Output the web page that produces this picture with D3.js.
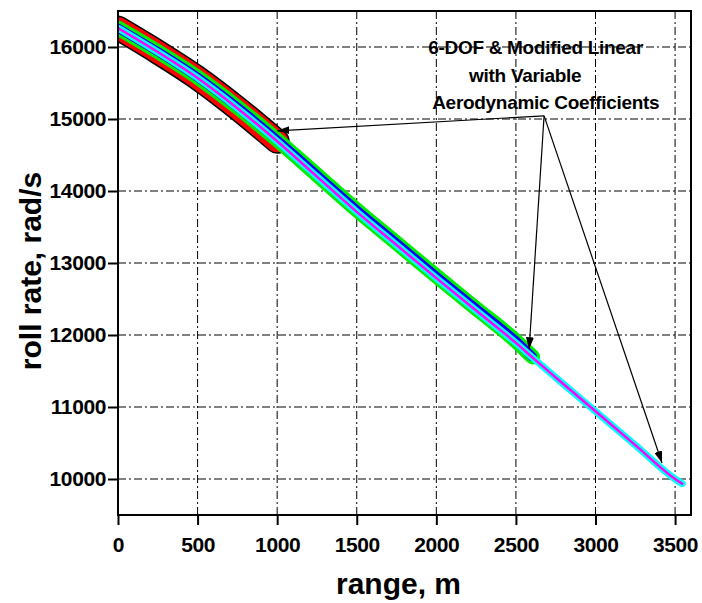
<!DOCTYPE html>
<html>
<head>
<meta charset="utf-8">
<script src="https://d3js.org/d3.v7.min.js"></script>
<style>
  body { margin: 0; background: #fff; }
  text { font-family: "Liberation Sans", Arial, sans-serif; font-weight: bold; fill: #000; }
</style>
</head>
<body>
<svg id="chart" width="702" height="603"></svg>
<script>

// DATA

// range, m (shared sample points)
var range = [0, 250, 500, 750, 1000, 1250, 1500, 1750, 2000, 2250, 2500, 2605, 2750, 3000, 3250, 3500, 3545];

// roll rate, rad/s - short range case (ends at 1000 m)
var rollShort = [16263, 15930, 15570, 15150, 14690];

// roll rate, rad/s - medium range case (ends at 2605 m)
var rollMedium = [16263, 15935, 15580, 15165, 14710, 14225, 13738, 13278, 12818, 12368, 11918, 11695];

// roll rate, rad/s - long range case (ends at 3545 m)
var rollLong = [16263, 15930, 15570, 15150, 14690, 14200, 13710, 13250, 12790, 12340, 11890, 11685, 11410, 10940, 10470, 10000, 9935];

var xTicks = [0, 500, 1000, 1500, 2000, 2500, 3000, 3500];
var yTicks = [10000, 11000, 12000, 13000, 14000, 15000, 16000];

// annotation text and arrows, in data units
var noteLines = ["6-DOF & Modified Linear", "with Variable", "Aerodynamic Coefficients"];
var noteAt = [[1949, 15903], [2206, 15515], [1974, 15141]];
var arrowFrom = [2677, 15044];
var arrowTo = [[1001, 14836], [2583, 11802], [3418, 10222]];

// CHART

var margin = {top: 11, left: 118, right: 11, bottom: 88};
var W = 702 - margin.left - margin.right;
var H = 603 - margin.top - margin.bottom;

var svg = d3.select("#chart");
var g = svg.append("g").attr("transform", "translate(" + margin.left + "," + margin.top + ")");

var x = d3.scaleLinear().domain([0, 3600]).range([0, W]);
var y = d3.scaleLinear().domain([9500, 16500]).range([H, 0]);

var defs = svg.append("defs");
defs.append("clipPath").attr("id", "plotclip")
    .append("rect").attr("width", W).attr("height", H);

defs.append("marker")
    .attr("id", "head")
    .attr("viewBox", "0 0 12 8")
    .attr("refX", 12).attr("refY", 4)
    .attr("markerWidth", 12).attr("markerHeight", 8)
    .attr("markerUnits", "userSpaceOnUse")
    .attr("orient", "auto")
  .append("path").attr("d", "M0,0 L12,4 L0,8 Z").attr("fill", "#000");

// grid
g.selectAll(".vgrid").data(xTicks.slice(1)).enter().append("line")
    .attr("x1", function(d) { return x(d); }).attr("x2", function(d) { return x(d); })
    .attr("y1", 0).attr("y2", H)
    .attr("stroke", "#000").attr("stroke-width", 1).attr("stroke-dasharray", "8,3,2,3");

g.selectAll(".hgrid").data(yTicks).enter().append("line")
    .attr("x1", 0).attr("x2", W)
    .attr("y1", function(d) { return y(d); }).attr("y2", function(d) { return y(d); })
    .attr("stroke", "#000").attr("stroke-width", 1).attr("stroke-dasharray", "8,3,2,3");

// curves
var line = d3.line()
    .x(function(d) { return x(d[0]); })
    .y(function(d) { return y(d[1]); })
    .curve(d3.curveMonotoneX);

function pairs(vals) {
    return vals.map(function(v, i) { return [range[i], v]; });
}

var curves = g.append("g").attr("clip-path", "url(#plotclip)");

var strokes = [
    {data: rollShort,  color: "#000000", width: 25},
    {data: rollShort,  color: "#ff0000", width: 22},
    {data: rollMedium, color: "#00ee00", width: 15},
    {data: rollMedium, color: "#0000ff", width: 9},
    {data: rollLong,   color: "#00ffff", width: 7},
    {data: rollLong,   color: "#ff00ff", width: 2.5}
];

strokes.forEach(function(s) {
    curves.append("path")
        .attr("d", line(pairs(s.data)))
        .attr("fill", "none")
        .attr("stroke", s.color)
        .attr("stroke-width", s.width)
        .attr("stroke-linecap", "round")
        .attr("stroke-linejoin", "round");
});

// frame
g.append("rect").attr("width", W).attr("height", H)
    .attr("fill", "none").attr("stroke", "#000").attr("stroke-width", 2);

// axes
var xAxis = g.append("g").attr("transform", "translate(0," + H + ")")
    .call(d3.axisBottom(x).tickValues(xTicks).tickFormat(d3.format("d")).tickSize(10).tickSizeOuter(0).tickPadding(12));
var yAxis = g.append("g")
    .call(d3.axisLeft(y).tickValues(yTicks).tickFormat(d3.format("d")).tickSize(10).tickSizeOuter(0).tickPadding(2));

[xAxis, yAxis].forEach(function(a) {
    a.select(".domain").remove();
    a.selectAll(".tick line").attr("stroke", "#000").attr("stroke-width", 2);
    a.selectAll("text").attr("font-size", "21px").attr("font-family", null).attr("letter-spacing", "-0.4px");
});

// axis titles
svg.append("text")
    .attr("x", margin.left + W / 2 - 6).attr("y", 594)
    .attr("text-anchor", "middle")
    .attr("font-size", "30px")
    .text("range, m");

svg.append("text")
    .attr("transform", "translate(41," + (margin.top + H / 2 + 8) + ") rotate(-90)")
    .attr("text-anchor", "middle")
    .attr("font-size", "30px")
    .text("roll rate, rad/s");

// annotation
g.selectAll(".note").data(noteLines).enter().append("text")
    .attr("x", function(d, i) { return x(noteAt[i][0]); })
    .attr("y", function(d, i) { return y(noteAt[i][1]); })
    .attr("font-size", "19px")
    .attr("letter-spacing", "-0.3px")
    .text(function(d) { return d; });

g.selectAll(".arrow").data(arrowTo).enter().append("line")
    .attr("x1", x(arrowFrom[0])).attr("y1", y(arrowFrom[1]))
    .attr("x2", function(d) { return x(d[0]); })
    .attr("y2", function(d) { return y(d[1]); })
    .attr("stroke", "#000").attr("stroke-width", 1.2)
    .attr("marker-end", "url(#head)");

</script>
</body>
</html>
